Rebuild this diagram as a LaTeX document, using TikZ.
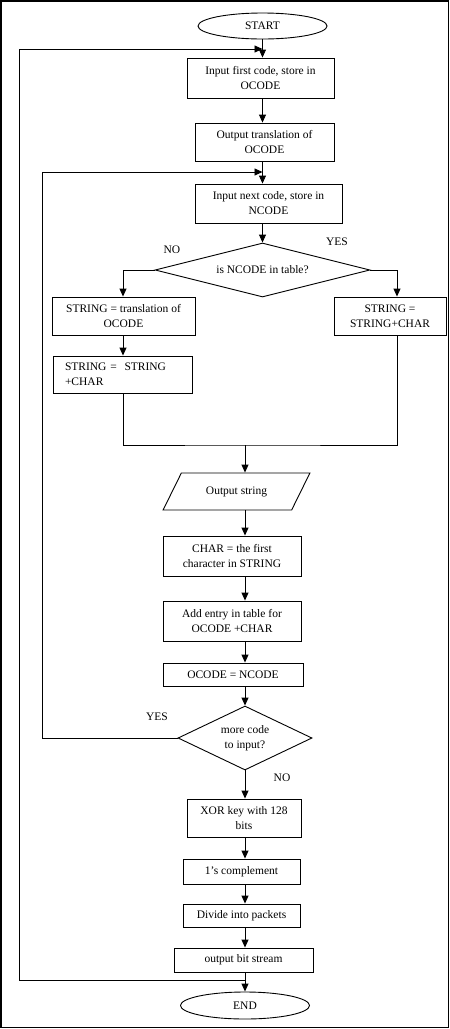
\documentclass[tikz,border=0pt]{standalone}
\usepackage{fontspec}
\setmainfont{Liberation Serif}
\usetikzlibrary{shapes.geometric,arrows.meta}
\begin{document}
\begin{tikzpicture}[x=1pt,y=-1pt,
  every node/.style={font=\fontsize{11.5}{15}\selectfont, inner sep=0pt},
  box/.style={draw, line width=0.9pt, rectangle, align=center},
  term/.style={draw, line width=0.9pt, ellipse},
  dec/.style={draw, line width=0.9pt, diamond, align=center},
  arr/.style={line width=0.9pt, -{Triangle[length=8pt,width=7pt]}},
  ln/.style={line width=0.9pt}]
\useasboundingbox (0,0) rectangle (450,1029);
\draw[line width=1.2pt] (1,1) rectangle (448.5,1027.5);

% helper coordinates
\coordinate (ux) at (262.5,0);
\coordinate (ax) at (245,0);
\coordinate (lx) at (123,0);
\coordinate (rx) at (397,0);
\coordinate (o1) at (19,49);
\coordinate (t1) at (262.5,49);
\coordinate (o2) at (42,172);
\coordinate (t2) at (262.5,172);
\coordinate (mj) at (245,445);
\coordinate (j1) at (245,980);

% nodes
\node[term, minimum width=129pt, minimum height=26pt] (start) at (262.5,26) {START};
\node[box, minimum width=147pt, minimum height=40pt] (b1) at (260.5,78) {Input first code, store in\\OCODE};
\node[box, minimum width=139pt, minimum height=38pt] (b2) at (264.5,142) {Output translation of\\OCODE};
\node[box, minimum width=147pt, minimum height=39pt] (b3) at (268.5,203.5) {Input next code, store in\\NCODE};
\node[dec, aspect=4, minimum width=215pt, minimum height=54pt] (dia1) at (262.5,270) {is NCODE in table?};
\node[box, minimum width=143pt, minimum height=38pt] (b4) at (123.5,316) {STRING = translation of\\OCODE};
\node[box, minimum width=112pt, minimum height=38pt] (b5) at (390,316) {STRING =\\STRING+CHAR};
\node[draw, line width=0.9pt, rectangle, align=left, text width=115pt, inner xsep=12pt, minimum height=37pt] (b6) at (122.5,374.5) {STRING =\ \ STRING\\+CHAR};
\node[draw, line width=0.9pt, trapezium, trapezium left angle=45, trapezium right angle=135, trapezium stretches=true, minimum width=147pt, minimum height=37pt] (para) at (236.5,491.5) {Output string};
\node[box, minimum width=138pt, minimum height=40pt] (b7) at (232,556) {CHAR = the first\\character in STRING};
\node[box, minimum width=138pt, minimum height=40pt] (b8) at (232,621) {Add entry in table for\\OCODE +CHAR};
\node[box, minimum width=140pt, minimum height=23pt] (b9) at (233,674.5) {OCODE = NCODE};
\node[dec, aspect=2, minimum width=134pt, minimum height=64pt] (dia2) at (245,738) {more code\\to input?};
\node[box, minimum width=114pt, minimum height=38pt] (b10) at (244,818) {XOR key with 128\\bits};
\node[box, minimum width=117pt, minimum height=25pt] (b11) at (241.5,871.5) {1's complement};
\node[box, minimum width=117pt, minimum height=23pt] (b12) at (241.5,915.5) {Divide into packets};
\node[box, minimum width=139pt, minimum height=24pt] (b13) at (243.5,960) {output bit stream};
\node[term, minimum width=129pt, minimum height=27pt] (end) at (245,1005.5) {END};

% labels
\node (no1) at (172,250) {NO};
\node (yes1) at (337,242) {YES};
\node (yes2) at (157,717) {YES};
\node (no2) at (282,778) {NO};

% connectors
\draw[arr] (start.south -| ux) -- (b1.north -| ux);
\draw[arr] (b1.south -| ux) -- (b2.north -| ux);
\draw[arr] (b2.south -| ux) -- (b3.north -| ux);
\draw[arr] (b3.south -| ux) -- (dia1.north);
\draw[arr] (dia1.west) -| (b4.north -| lx);
\draw[arr] (dia1.east) -| (b5.north -| rx);
\draw[arr] (b4.south -| lx) -- (b6.north -| lx);
\draw[ln] (b6.south -| lx) |- (mj) -| (b5.south -| rx);
\draw[arr] (mj) -- (para.north -| ax);
\draw[arr] (para.south -| ax) -- (b7.north -| ax);
\draw[arr] (b7.south -| ax) -- (b8.north -| ax);
\draw[arr] (b8.south -| ax) -- (b9.north -| ax);
\draw[arr] (b9.south -| ax) -- (dia2.north);
\draw[arr] (dia2.south) -- (b10.north -| ax);
\draw[arr] (b10.south -| ax) -- (b11.north -| ax);
\draw[arr] (b11.south -| ax) -- (b12.north -| ax);
\draw[arr] (b12.south -| ax) -- (b13.north -| ax);
\draw[arr] (b13.south -| ax) -- (end.north);
\draw[arr] (j1) -| (o1) |- (t1);
\draw[arr] (dia2.west) -| (o2) |- (t2);
\end{tikzpicture}
\end{document}
